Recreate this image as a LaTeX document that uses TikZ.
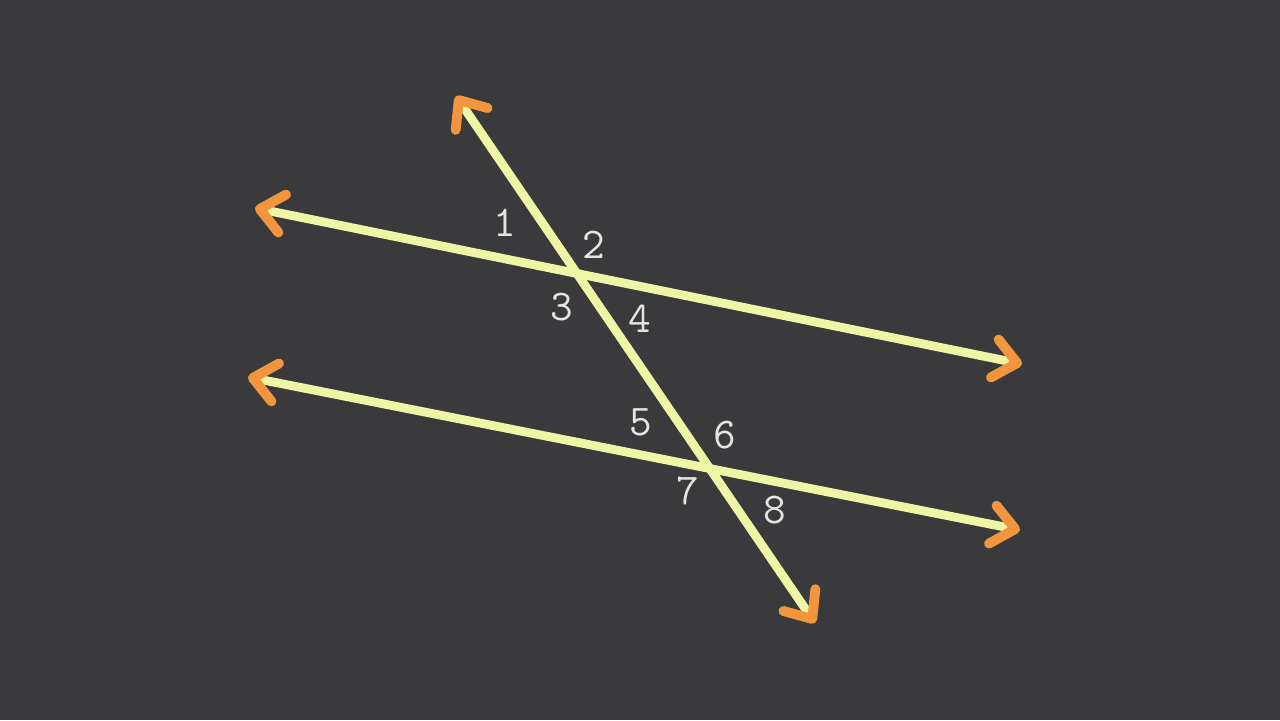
\documentclass[tikz,border=0pt]{standalone}
\usetikzlibrary{arrows.meta,positioning}
\definecolor{board}{RGB}{58,58,61}
\definecolor{chalk}{RGB}{238,245,165}
\definecolor{tipc}{RGB}{242,150,62}
\definecolor{num}{RGB}{228,228,228}
\tikzset{barb/.tip={Straight Barb[length=6.5pt,width=11pt,line width=2.8pt,round,color=tipc]}}
\begin{document}
\begin{tikzpicture}[x=0.01cm,y=-0.01cm,
  ln/.style={chalk, line width=2.5pt, barb-barb},
  lbl/.style={text=num, font=\ttfamily\fontsize{12.5}{12.5}\selectfont, inner sep=0pt}]
\fill[board] (0,0) rectangle (1280,720);
% parallel lines and transversal
\coordinate (a1) at (255,208);
\coordinate (a2) at (1022,364);
\coordinate (b1) at (248,377);
\coordinate (b2) at (1020,530);
\coordinate (t1) at (456,96);
\coordinate (t2) at (815,623);
\draw[ln] (a1) -- (a2);
\draw[ln] (b1) -- (b2);
\draw[ln] (t1) -- (t2);
% angle numbers
\foreach \n/\x/\y in {1/505/223,2/594/245,3/562/307,4/640/319,5/641/422,6/725/435,7/688/491,8/775/510}{\node[lbl] (n\n) at (\x,\y) {\n};}
\end{tikzpicture}
\end{document}
